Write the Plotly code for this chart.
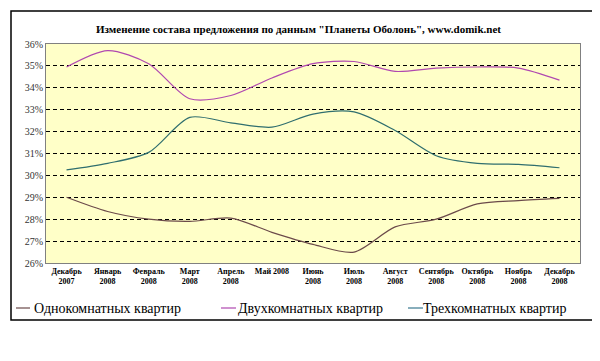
import plotly.graph_objects as go

months = ["Декабрь<br>2007", "Январь<br>2008", "Февраль<br>2008", "Март<br>2008",
          "Апрель<br>2008", "Май 2008", "Июнь<br>2008", "Июль<br>2008",
          "Август<br>2008", "Сентябрь<br>2008", "Октябрь<br>2008", "Ноябрь<br>2008",
          "Декабрь<br>2008"]
one_room = [29.0, 28.35, 28.0, 27.9, 28.05, 27.4, 26.85, 26.5, 27.65, 28.0, 28.7, 28.85, 28.95]
two_room = [34.95, 35.7, 35.1, 33.5, 33.65, 34.45, 35.1, 35.2, 34.75, 34.9, 34.95, 34.9, 34.35]
three_room = [30.25, 30.55, 31.05, 32.65, 32.4, 32.2, 32.8, 32.9, 32.05, 30.9, 30.55, 30.5, 30.35]
names = ["Однокомнатных квартир", "Двухкомнатных квартир", "Трехкомнатных квартир"]
colors = ["#6b4a4a", "#b048b0", "#2f6e6e"]
legend_colors = ["#6b4a4a", "#b048b0", "#3a7890"]
title = 'Изменение состава предложения по данным "Планеты Оболонь", www.domik.net'

W, H = 600, 361
L, R, T, B = 38, 28, 36, 106
pw, ph = W - L - R, H - T - B

def px_x(x):
    return (x - L) / pw

def px_y(y):
    return (H - B - y) / ph

fig = go.Figure()
for vals, name, col in zip([one_room, two_room, three_room], names, colors):
    fig.add_trace(go.Scatter(x=months, y=vals, name=name, mode="lines",
                             line=dict(color=col, width=1.2, shape="spline", smoothing=0.8)))

# legend drawn as line samples + text, positioned like the original
legend_line_x = [(8, 22), (213, 228), (400, 415)]
legend_text_x = [24, 228, 413]
legend_y = 300
shapes = [dict(type="rect", xref="paper", yref="paper",
               x0=px_x(3), x1=px_x(598), y0=px_y(3), y1=px_y(312),
               line=dict(color="#000", width=1.5), layer="above")]
annotations = [dict(text="<b>" + title + "</b>", xref="paper", yref="paper",
                    x=px_x(290), y=px_y(21), xanchor="center", yanchor="middle",
                    showarrow=False,
                    font=dict(family="Liberation Serif", size=11, color="#000"))]
for (x0, x1), tx, name, col in zip(legend_line_x, legend_text_x, names, legend_colors):
    shapes.append(dict(type="line", xref="paper", yref="paper",
                       x0=px_x(x0), x1=px_x(x1), y0=px_y(legend_y), y1=px_y(legend_y),
                       line=dict(color=col, width=1.2)))
    annotations.append(dict(text=name, xref="paper", yref="paper",
                            x=px_x(tx), y=px_y(legend_y), xanchor="left", yanchor="middle",
                            showarrow=False,
                            font=dict(family="Liberation Serif", size=14, color="#000")))

fig.update_layout(
    width=W, height=H,
    margin=dict(l=L, r=R, t=T, b=B),
    paper_bgcolor="white",
    plot_bgcolor="#ffffc8",
    showlegend=False,
    xaxis=dict(type="category", range=[-0.5, 12.5], showgrid=False,
               showline=True, linecolor="#808080", mirror=True, ticks="",
               tickvals=months, ticktext=["<b>" + m + "</b>" for m in months],
               tickfont=dict(family="Liberation Serif", size=8, color="#000"),
               tickangle=0),
    yaxis=dict(range=[26, 36], dtick=1, ticksuffix="%",
               showgrid=True, gridcolor="#000", griddash="4px,3px", gridwidth=1,
               showline=True, linecolor="#808080", mirror=True, ticks="",
               zeroline=False,
               tickfont=dict(family="Liberation Serif", size=10, color="#333")),
    annotations=annotations,
    shapes=shapes,
)

fig.write_html("out.html")
